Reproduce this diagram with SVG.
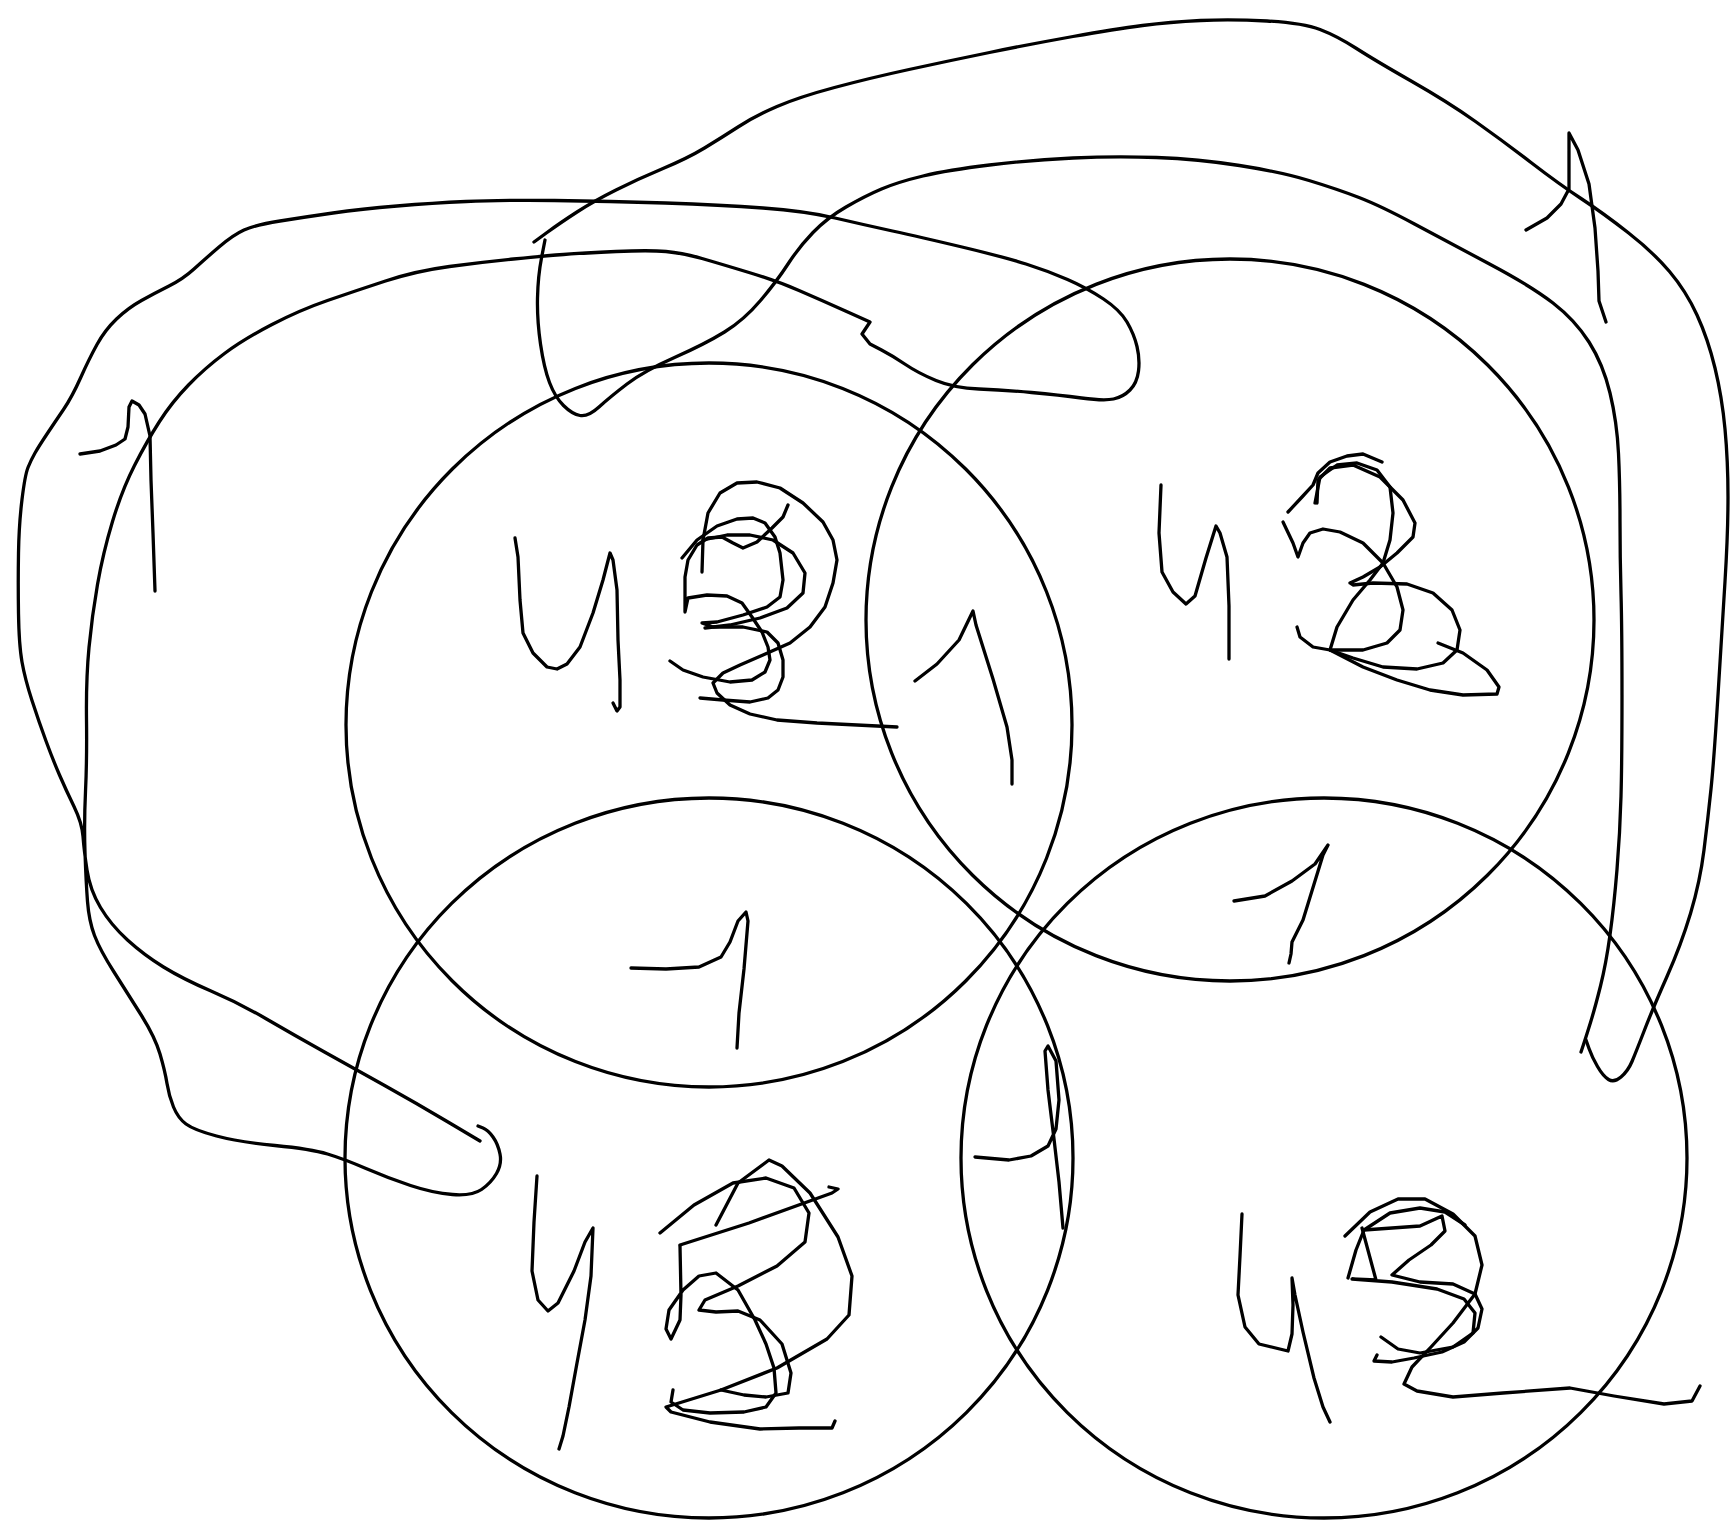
<svg xmlns="http://www.w3.org/2000/svg" width="1735" height="1523" viewBox="0 0 1735 1523">
<style>
.s{fill:none;stroke:#000;stroke-width:3.3;stroke-linecap:round;stroke-linejoin:round}
</style>
<rect width="1735" height="1523" fill="#fff"/>
<g id="circle-a">
<ellipse class="s" cx="709" cy="725" rx="363" ry="362"/>
<polyline class="s" points="515,538 518,557 520,600 523,633 533,653 547,667 557,669 567,664 580,647 593,613 603,580 610,553 613,560 617,590 618,640 620,680 620,707 617,711 613,703"/>
<polyline class="s" points="702,572 703,540 708,513 720,493 737,483 757,482 780,488 803,503 823,522 833,540 837,560 833,583 825,607 810,627 790,643 763,655 740,665 723,673 713,683 717,693 730,705 750,714 777,720 817,723 897,727"/>
<polyline class="s" points="682,558 697,540 717,526 737,519 753,518 765,523 775,537 780,553 783,580 780,597 767,607 743,615 717,622 702,623 713,627 743,627 767,632 778,643 783,660 783,677 778,690 768,698 750,702 723,700 700,698"/>
<polyline class="s" points="788,505 783,517 772,528 757,542 743,548 733,543 722,537 708,538 697,545 688,560 685,577 685,612 688,598 707,595 727,596 742,603 752,617 762,632 768,647 770,660 765,672 752,680 730,682 703,677 683,670 670,661"/>
<polyline class="s" points="703,540 727,535 750,535 773,540 793,553 805,573 803,593 787,608 760,618 730,625 705,628"/>
<polyline class="s" points="915,681 937,664 959,640 973,611 976,625 993,679 1007,727 1012,760 1012,784"/>
</g>
<g id="circle-b">
<ellipse class="s" cx="1230" cy="620" rx="364" ry="361"/>
<polyline class="s" points="1161,485 1159,533 1162,572 1173,592 1186,604 1195,596 1206,558 1216,526 1220,533 1227,557 1229,606 1229,659"/>
<polyline class="s" points="1317,503 1318,480 1330,468 1353,465 1380,477 1403,500 1415,523 1413,537 1397,553 1380,567 1363,577 1350,583 1353,585 1373,583 1407,584 1433,593 1452,610 1460,630 1457,650 1443,663 1417,669 1383,667 1353,658 1330,650"/>
<polyline class="s" points="1297,627 1300,637 1313,647 1330,650 1363,650 1387,643 1400,630 1403,610 1397,587 1383,563 1363,543 1340,532 1323,529 1310,533 1303,543 1298,557 1293,543 1283,522"/>
<polyline class="s" points="1330,650 1337,627 1353,600 1370,580 1383,563 1390,540 1393,513 1390,487 1377,470 1357,463 1337,465 1320,477 1315,503"/>
<polyline class="s" points="1330,650 1363,667 1397,680 1430,690 1463,695 1497,694 1499,687 1487,670 1463,653 1438,643"/>
<polyline class="s" points="1288,512 1302,497 1313,485 1318,473 1330,462 1347,456 1363,454 1382,462"/>
<polyline class="s" points="1234,901 1265,896 1292,881 1315,864 1328,845 1323,855 1315,881 1303,920 1292,942 1291,954 1289,963"/>
</g>
<g id="circle-c">
<ellipse class="s" cx="709" cy="1158" rx="364" ry="360"/>
<polyline class="s" points="631,968 666,969 699,967 721,957 730,942 738,921 746,912 748,921 744,969 739,1013 737,1048"/>
<polyline class="s" points="537,1176 534,1222 532,1271 538,1300 548,1311 558,1303 574,1271 585,1242 593,1228 591,1276 585,1320 577,1363 569,1407 563,1436 559,1449"/>
<polyline class="s" points="660,1233 694,1205 733,1183 766,1178 794,1188 809,1213 805,1242 777,1266 738,1286 705,1300 699,1310 716,1312 738,1311 760,1320 782,1344 791,1373 788,1393 766,1397 744,1395 721,1390"/>
<polyline class="s" points="716,1225 738,1183 769,1160 782,1166 810,1193 838,1237 852,1276 849,1315 827,1339 777,1368 721,1390 666,1407 671,1412 710,1422 760,1429 799,1428 832,1428 835,1421"/>
<polyline class="s" points="680,1245 749,1223 832,1193 838,1189 829,1187"/>
<polyline class="s" points="680,1246 681,1295 680,1320 671,1339 666,1329 669,1310 683,1290 699,1276 716,1273 738,1290 755,1320 766,1344 774,1368 776,1393 766,1407 744,1412 710,1413 683,1410 671,1402 673,1390"/>
</g>
<g id="circle-d">
<ellipse class="s" cx="1324" cy="1158" rx="363" ry="360"/>
<polyline class="s" points="975,1157 1009,1160 1031,1156 1048,1146 1056,1129 1059,1100 1056,1061 1048,1046 1045,1051 1048,1090 1054,1139 1059,1182 1063,1228"/>
<polyline class="s" points="1242,1214 1240,1256 1238,1295 1245,1327 1259,1344 1288,1351 1292,1334 1293,1305 1292,1278 1295,1295 1303,1332 1314,1378 1323,1407 1330,1422"/>
<polyline class="s" points="1345,1236 1370,1212 1398,1199 1425,1199 1453,1214 1475,1236 1482,1265 1475,1294 1453,1323 1431,1347 1412,1367 1404,1384 1417,1391 1453,1397 1503,1393 1570,1388 1614,1396 1664,1404 1692,1401 1700,1386"/>
<polyline class="s" points="1348,1278 1356,1250 1364,1230 1420,1226 1442,1216 1445,1231 1431,1245 1409,1260 1392,1275 1420,1282 1453,1284 1475,1294 1482,1309 1478,1328 1464,1342 1442,1352 1414,1358 1392,1362 1374,1361 1377,1355"/>
<polyline class="s" points="1362,1228 1376,1280 1352,1279 1392,1282 1437,1289 1464,1299 1475,1313 1473,1333 1453,1347 1420,1353 1398,1349 1381,1337"/>
<polyline class="s" points="1364,1230 1390,1213 1420,1208 1445,1212 1465,1225"/>
</g>
<g id="connectors">
<path class="s" d="M480,1141 L448,1122 Q416,1103 385.5,1086 Q355,1069 324.5,1052 Q294,1035 266.5,1019 Q239,1003 211,991 Q183,979 163.5,967 Q144,955 127.5,940 Q111,925 100.5,907.5 Q90,890 87,870 Q84,850 83,836.5 Q82,823 74,806.5 Q66,790 59.5,775 Q53,760 46,741 Q39,722 32,700.5 Q25,679 22,662 Q19,645 18.5,613.5 Q18,582 18.5,553 Q19,524 22,499.5 Q25,475 28,467.5 Q31,460 35,453 Q39,446 47,434 Q55,422 63.5,409.5 Q72,397 80.5,378 Q89,359 97,344.5 Q105,330 116.5,319 Q128,308 141.5,300.5 Q155,293 169,286 Q183,279 194,269 Q205,259 219,247 Q233,235 244,230 Q255,225 280,221 Q305,217 333,213 Q361,209 397,206 Q433,203 466,201.5 Q499,200 554.5,200.5 Q610,201 665.5,203 Q721,205 763,208 Q805,211 835,218 Q865,225 892.5,231 Q920,237 962,247 Q1004,257 1026,264 Q1048,271 1067.5,279.5 Q1087,288 1103.5,299 Q1120,310 1127,322 Q1134,334 1137,346.5 Q1140,359 1138.5,371 Q1137,383 1130,390 Q1123,397 1113.5,399 Q1104,401 1081.5,398 Q1059,395 1031.5,392.5 Q1004,390 979,389 Q954,388 936,380.5 Q918,373 905.5,364.5 Q893,356 881.5,350 L870,344 L862,334 L870,322 L845.5,311 Q821,300 799,290.5 Q777,281 749,272.5 Q721,264 702,258.5 Q683,253 666,251.5 Q649,250 616,251.5 Q583,253 563.5,254.5 Q544,256 513.5,259 Q483,262 449.5,266.5 Q416,271 385.5,281 Q355,291 327.5,300.5 Q300,310 272,324.5 Q244,339 224.5,353.5 Q205,368 188.5,385 Q172,402 159.5,421.5 Q147,441 134.5,465.5 Q122,490 112.5,521.5 Q103,553 97.5,584.5 Q92,616 89,647.5 Q86,679 86.5,719.5 Q87,760 85.5,791.5 Q84,823 85,852.5 Q86,882 87.5,901.5 Q89,921 94.5,935.5 Q100,950 114,972 Q128,994 141.5,1015.5 Q155,1037 160,1054 Q165,1071 167,1083.5 Q169,1096 173.5,1107 Q178,1118 186,1124 Q194,1130 216.5,1136 Q239,1142 275,1145.5 Q311,1149 327.5,1154 Q344,1159 366,1168.5 Q388,1178 410.5,1185.5 Q433,1193 452.5,1194.5 Q472,1196 481.5,1189.5 Q491,1183 496.5,1173.5 Q502,1164 500,1154 Q498,1144 493,1137 Q488,1130 483,1128 L478,1126"/>
<path class="s" d="M534,242 L547,232.5 Q560,223 577,212 Q594,201 616,190 Q638,179 663,168.5 Q688,158 704.5,148 Q721,138 738,127 Q755,116 777,106.5 Q799,97 834.5,87.5 Q870,78 909,69.5 Q948,61 989.5,52.5 Q1031,44 1073,36.5 Q1115,29 1142.5,25.5 Q1170,22 1200.5,20.5 Q1231,19 1267,21 Q1303,23 1320,29.5 Q1337,36 1356.5,48.5 Q1376,61 1412,81.5 Q1448,102 1475.5,121.5 Q1503,141 1531,162.5 Q1559,184 1581,198.5 Q1603,213 1628,232.5 Q1653,252 1669.5,271.5 Q1686,291 1697,315 Q1708,339 1715,368 Q1722,397 1725,429 Q1728,461 1728,497 Q1728,533 1725,581.5 Q1722,630 1718,695 Q1714,760 1711,789 Q1708,818 1704,850 Q1700,882 1690.5,913.5 Q1681,945 1667,976.5 Q1653,1008 1644.5,1030 Q1636,1052 1632,1061.5 Q1628,1071 1621,1077 Q1614,1083 1608.5,1079.5 Q1603,1076 1597.5,1066.5 Q1592,1057 1589,1048.5 L1586,1040"/>
<path class="s" d="M545,240 L541.5,258 Q538,276 537.5,298 Q537,320 540.5,344 Q544,368 549.5,382.5 Q555,397 563.5,405.5 Q572,414 580,415.5 Q588,417 599,407 Q610,397 627,384 Q644,371 674.5,357.5 Q705,344 724.5,332 Q744,320 760.5,300.5 Q777,281 788,264 Q799,247 813,232.5 Q827,218 846,207 Q865,196 881.5,189 Q898,182 923,176 Q948,170 989.5,165 Q1031,160 1073,158 Q1115,156 1156.5,157.5 Q1198,159 1239.5,165.5 Q1281,172 1309,180.5 Q1337,189 1359,197.5 Q1381,206 1414.5,224 Q1448,242 1489.5,264 Q1531,286 1553,303 Q1575,320 1589,342 Q1603,364 1610,393 Q1617,422 1618.5,453.5 Q1620,485 1620,521 Q1620,557 1621,593.5 Q1622,630 1622,695 Q1622,760 1621,796.5 Q1620,833 1617,869.5 Q1614,906 1610,935 Q1606,964 1600.5,986 Q1595,1008 1590.5,1022.5 Q1586,1037 1583.5,1044.5 L1581,1052"/>
<polyline class="s" points="80,454 100,451 116,445 125,439 128,427 129,407 132,401 139,405 145,414 150,436 151,480 153,533 155,591"/>
<polyline class="s" points="1526,230 1547,218 1561,204 1569,189 1569,160 1569,133 1578,150 1589,184 1595,228 1598,271 1599,301 1606,322"/>
</g>
</svg>
